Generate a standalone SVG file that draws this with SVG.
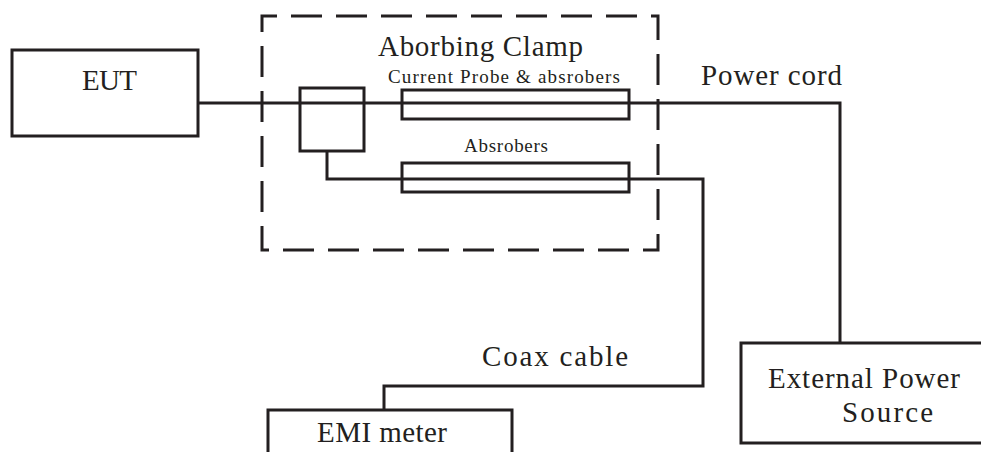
<svg xmlns="http://www.w3.org/2000/svg" width="981" height="452" viewBox="0 0 981 452">
<style>
.box{fill:none;stroke:#231f20;stroke-width:3}
.ln{fill:none;stroke:#231f20;stroke-width:3}
.dash{fill:none;stroke:#231f20;stroke-width:3;stroke-dasharray:31 14;stroke-dashoffset:16}
text{font-family:'Liberation Serif','Times New Roman',serif;fill:#231f20}
.big{font-size:29px}
.small{font-size:19px}
</style>
<rect width="981" height="452" fill="#fff"/>
<g id="connectors">
<polyline class="ln" points="198,103 840,103 840,343"/>
<polyline class="ln" points="327,151 327,179 703,179 703,386 384,386 384,410"/>
</g>
<g id="clamp">
<rect class="dash" x="262" y="16" width="396" height="234"/>
<text class="big" x="378" y="56" textLength="205" lengthAdjust="spacing">Aborbing Clamp</text>
</g>
<g id="coupler">
<rect class="box" x="300" y="88" width="64" height="63"/>
</g>
<g id="current-probe">
<rect class="box" x="402" y="90" width="227" height="29"/>
<text class="small" x="388" y="83" textLength="232" lengthAdjust="spacing">Current Probe &amp; absrobers</text>
</g>
<g id="absorbers">
<rect class="box" x="402" y="163" width="227" height="29"/>
<text class="small" x="464" y="152" textLength="84" lengthAdjust="spacing">Absrobers</text>
</g>
<g id="eut">
<rect class="box" x="12" y="50" width="186" height="86"/>
<text class="big" x="82" y="90" textLength="55" lengthAdjust="spacing">EUT</text>
</g>
<g id="power-cord-label">
<text class="big" x="701" y="85" textLength="141" lengthAdjust="spacing">Power cord</text>
</g>
<g id="coax-label">
<text class="big" x="482" y="366" textLength="146" lengthAdjust="spacing">Coax cable</text>
</g>
<g id="emi-meter">
<rect class="box" x="268" y="410" width="244" height="60"/>
<text class="big" x="317" y="442" textLength="130" lengthAdjust="spacing">EMI meter</text>
</g>
<g id="power-source">
<rect class="box" x="741" y="343" width="260" height="100"/>
<text class="big" x="768" y="388" textLength="192" lengthAdjust="spacing">External Power</text>
<text class="big" x="842" y="422" textLength="91" lengthAdjust="spacing">Source</text>
</g>
</svg>
